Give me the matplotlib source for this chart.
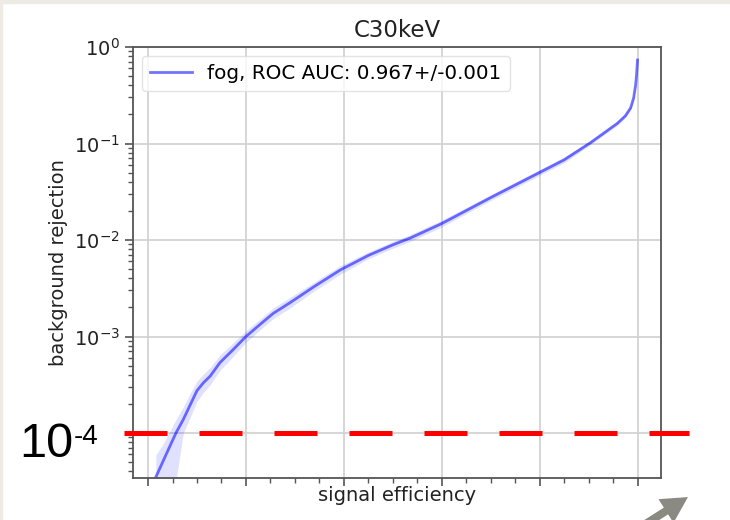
import numpy as np
import matplotlib
matplotlib.use("Agg")
import matplotlib.pyplot as plt
from matplotlib.transforms import Affine2D
from matplotlib.patches import FancyArrow, Rectangle
from matplotlib.ticker import MultipleLocator, NullFormatter, LogFormatterSciNotation

# ---- data ----
title = "C30keV"
xlabel = "signal efficiency"
ylabel = "background rejection"
legend_label = "fog, ROC AUC: 0.967+/-0.001"
threshold = 1e-4
threshold_label_base = "10"
threshold_label_exp = "-4"

sig_eff = [0.016, 0.030, 0.043, 0.057, 0.072, 0.086, 0.100, 0.113, 0.127, 0.147,
           0.175, 0.200, 0.230, 0.256, 0.290, 0.340, 0.393, 0.450, 0.500, 0.536,
           0.600, 0.700, 0.800, 0.850, 0.904, 0.932, 0.959, 0.975, 0.986, 0.992,
           0.996, 0.998, 1.000]
bkg_rej = [3.50e-5, 5.01e-5, 7.0e-5, 1.0e-4, 1.38e-4, 1.95e-4, 2.75e-4, 3.31e-4, 3.89e-4, 5.37e-4,
           7.41e-4, 1.0e-3, 1.35e-3, 1.74e-3, 2.24e-3, 3.31e-3, 4.90e-3, 6.92e-3, 8.91e-3, 1.05e-2,
           1.48e-2, 2.75e-2, 5.01e-2, 6.76e-2, 0.102, 0.129, 0.162, 0.193, 0.234, 0.295,
           0.398, 0.513, 0.733]
# band half-widths below / above the curve, in decades
band_dn = [0.60, 0.55, 0.50, 0.50, 0.14, 0.13, 0.11, 0.10, 0.09, 0.08,
           0.07, 0.06, 0.055, 0.055, 0.055, 0.045, 0.045, 0.035, 0.035, 0.035,
           0.035, 0.03, 0.03, 0.03, 0.02, 0.02, 0.02, 0.02, 0.02, 0.015,
           0.015, 0.015, 0.015]
band_up = [0.23, 0.18, 0.155, 0.14, 0.13, 0.12, 0.10, 0.09, 0.09, 0.08,
           0.07, 0.06, 0.055, 0.055, 0.055, 0.045, 0.045, 0.035, 0.035, 0.035,
           0.035, 0.03, 0.03, 0.03, 0.02, 0.02, 0.02, 0.02, 0.02, 0.015,
           0.015, 0.015, 0.015]

y = np.array(bkg_rej)
y_lo = y * 10.0 ** (-np.array(band_dn))
y_hi = y * 10.0 ** (np.array(band_up))

W, H, DPI = 730, 520, 100
plt.rcParams['font.family'] = ['DejaVu Sans']
plt.rcParams['font.size'] = 14

fig = plt.figure(figsize=(W / DPI, H / DPI), dpi=DPI)
fig.patch.set_facecolor('white')

# screenshot border (beige strips at top and left)
pix = Affine2D().scale(1, -1).translate(0, H)
border = '#edebe3'
fig.patches.append(Rectangle((0, 0), W, 3, transform=pix, color=border, zorder=0))
fig.patches.append(Rectangle((0, 0), 2, H, transform=pix, color=border, zorder=0))

ax = fig.add_axes([133 / W, 1 - 478 / H, 528 / W, 431 / H])
ax.set_yscale('log')
ax.fill_between(sig_eff, y_lo, y_hi, color='blue', alpha=0.12, lw=0)
ax.plot(sig_eff, bkg_rej, color='blue', alpha=0.55, lw=2.0, label=legend_label)

ax.set_xlim(-0.0307, 1.048)
ax.set_ylim(3.42e-5, 1.0)
ax.xaxis.set_major_locator(MultipleLocator(0.2))
ax.xaxis.set_minor_locator(MultipleLocator(0.05))
ax.xaxis.set_major_formatter(NullFormatter())

_sci = LogFormatterSciNotation()
def _yfmt(v, pos=None):
    # the 10^-4 label is covered by the big annotation in the reference
    if abs(np.log10(v) - np.log10(threshold)) < 1e-6:
        return ""
    return _sci(v, pos)
ax.yaxis.set_major_formatter(_yfmt)

ax.grid(True, which='major', color='#d0d0d0', lw=1.2)
ax.set_axisbelow(True)
for s in ax.spines.values():
    s.set_color('#555555')
    s.set_linewidth(1.3)
ax.tick_params(which='major', length=6, width=1.2, color='#555555', labelcolor='#222222', labelsize=14)
ax.tick_params(which='minor', length=3.5, width=1.0, color='#555555')

ax.set_title(title, fontsize=16.5, color='#222222', pad=7)
ax.set_xlabel(xlabel, fontsize=14, color='#222222', labelpad=-4)
ax.set_ylabel(ylabel, fontsize=14, color='#222222', labelpad=4)
leg = ax.legend(loc='upper left', fontsize=14.3, framealpha=0.8, borderaxespad=0.45,
                handlelength=2.1)
leg.get_frame().set_edgecolor('#dddddd')

# red dashed threshold line (extends past the axes)
lw_pt = 3.6
ax.plot([-0.017, 1.053], [threshold, threshold], transform=ax.get_yaxis_transform(),
        color='#ff0000', lw=lw_pt, clip_on=False, solid_capstyle='butt',
        linestyle=(0, (30.96 / lw_pt, 23.04 / lw_pt)), zorder=10)

# big "10^-4" annotation
fig.text(19, 457, threshold_label_base, transform=pix, fontsize=35, family='Liberation Sans',
         color='black', va='baseline', ha='left')
fig.text(74, 444, threshold_label_exp, transform=pix, fontsize=20, family='Liberation Sans',
         color='black', va='baseline', ha='left')

# gray arrow at bottom right
fig.patches.append(FancyArrow(636, 530, 30, -19, width=8, head_width=28, head_length=26,
                              length_includes_head=False, transform=pix, color='#8a8a82', lw=0))

fig.savefig('out.png', dpi=DPI)
